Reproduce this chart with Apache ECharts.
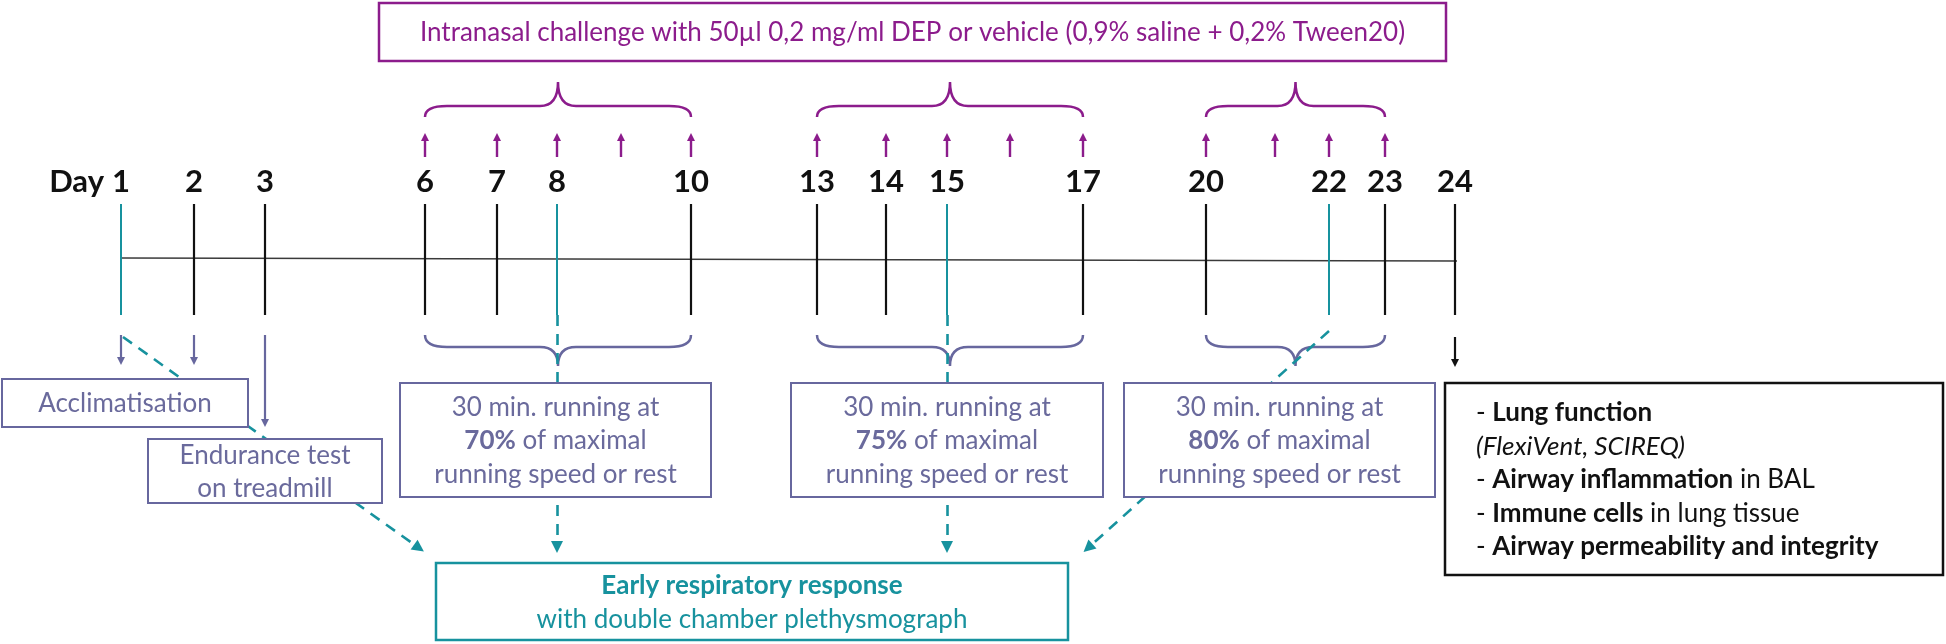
<!DOCTYPE html>
<html>
<head>
<meta charset="utf-8">
<title>Protocol timeline</title>
<script src="https://cdn.jsdelivr.net/npm/echarts@6/dist/echarts.min.js"></script>
<style>
  html, body { margin: 0; padding: 0; background: #fff; }
  #chart { width: 1946px; height: 644px; }
</style>
</head>
<body>
<div id="chart"></div>
<script>
// days on the timeline and where each one sits on the (non linear) schematic axis
const timelineDays = [1, 2, 3, 6, 7, 8, 9, 10, 13, 14, 15, 16, 17, 20, 21, 22, 23, 24]
const timelinePos = [121, 194, 265, 425, 497, 557, 621, 691, 817, 886, 947, 1010, 1083, 1206, 1275, 1329, 1385, 1455]

const labelledDays = [1, 2, 3, 6, 7, 8, 10, 13, 14, 15, 17, 20, 22, 23, 24]
const plethDays = [1, 8, 15, 22]
const challengeDays = [6, 7, 8, 9, 10, 13, 14, 15, 16, 17, 20, 21, 22, 23]
const trainingBlocks = [[6, 10], [13, 17], [20, 23]]
const intensities = ['70%', '75%', '80%']

const challengeText = 'Intranasal challenge with 50µl 0,2 mg/ml DEP or vehicle (0,9% saline + 0,2% Tween20)'
const acclimText = 'Acclimatisation'
const enduranceText = 'Endurance test\non treadmill'
const plethText = ['Early respiratory response', 'with double chamber plethysmograph']
const endpointText = [
  ['- ', 'Lung function', ''],
  ['', '', '(FlexiVent, SCIREQ)'],
  ['- ', 'Airway inflammation', ' in BAL'],
  ['- ', 'Immune cells', ' in lung tissue'],
  ['- ', 'Airway permeability and integrity', '']
]

const FONT = 'Lato'
const PURPLE = '#8c1c8c'
const SLATE = '#67679e'
const SLATE_TEXT = '#6a6a9c'
const TEAL = '#17929e'
const BLACK = '#111111'

const pos = day => timelinePos[timelineDays.indexOf(day)]

const chart = echarts.init(document.getElementById('chart'))

// vertical layout of the timeline
const AXIS_Y = [258, 261]
const TICK_TOP = 204
const TICK_BOTTOM = 315
const LABEL_Y = 182

const rich = (size, color) => ({
  b: { fontFamily: FONT, fontSize: size, fontWeight: 'bold', fill: color, lineHeight: 33.5 },
  i: { fontFamily: FONT, fontSize: size, fontStyle: 'italic', fill: color, lineHeight: 33.5 },
  n: { fontFamily: FONT, fontSize: size, fill: color, lineHeight: 33.5 }
})

const intensityBoxes = [[400, 711], [791, 1103], [1124, 1435]]

const boxes = [
  { x0: 379, y0: 3, x1: 1446, y1: 61, stroke: PURPLE, color: PURPLE, size: 26, lw: 2.5, text: challengeText },
  { x0: 2, y0: 379, x1: 248, y1: 427, stroke: SLATE, color: SLATE_TEXT, size: 26, lw: 2, text: acclimText },
  { x0: 148, y0: 439, x1: 382, y1: 503, stroke: SLATE, color: SLATE_TEXT, size: 26, lw: 2, text: enduranceText },
  ...intensities.map((p, i) => ({
    x0: intensityBoxes[i][0], y0: 383, x1: intensityBoxes[i][1], y1: 497,
    stroke: SLATE, color: SLATE_TEXT, size: 26, lw: 2,
    text: '30 min. running at\n{b|' + p + '} of maximal\nrunning speed or rest'
  })),
  {
    x0: 436, y0: 563, x1: 1068, y1: 640, stroke: TEAL, color: TEAL, size: 26, lw: 2.5,
    text: '{b|' + plethText[0] + '}\n' + plethText[1]
  },
  {
    x0: 1445, y0: 383, x1: 1943, y1: 575, stroke: BLACK, color: BLACK, size: 26, lw: 2.5, align: 'left', pad: 31,
    text: endpointText.map(r => (r[0] ? r[0] : '') + (r[1] ? '{b|' + r[1] + '}' : '') +
      (r[2] ? (r[1] ? r[2] : '{i|' + r[2] + '}') : '')).join('\n')
  }
]

const renderBox = (params, api) => {
  const b = boxes[params.dataIndex]
  const p0 = api.coord([b.x0, b.y0])
  const p1 = api.coord([b.x1, b.y1])
  const left = Math.min(p0[0], p1[0])
  const top = Math.min(p0[1], p1[1])
  const w = Math.abs(p1[0] - p0[0])
  const h = Math.abs(p1[1] - p0[1])
  const align = b.align || 'center'
  return {
    type: 'group',
    children: [
      {
        type: 'rect',
        shape: { x: left, y: top, width: w, height: h },
        style: { fill: '#fff', stroke: b.stroke, lineWidth: b.lw }
      },
      {
        type: 'text',
        x: align === 'left' ? left + b.pad : left + w / 2,
        y: top + h / 2 + 1,
        style: {
          text: b.text,
          fill: b.color,
          fontFamily: FONT,
          fontSize: b.size,
          lineHeight: 33.5,
          align: align,
          textAlign: align,
          verticalAlign: 'middle',
          textVerticalAlign: 'middle',
          rich: rich(b.size, b.color)
        }
      }
    ]
  }
}

const bracePath = (xa, xb, yEnd, yMid, yTip) => {
  const xc = (xa + xb) / 2
  const e = 22
  const c = 18
  return 'M' + xa + ' ' + yEnd + ' Q' + xa + ' ' + yMid + ' ' + (xa + e) + ' ' + yMid +
    ' L' + (xc - c) + ' ' + yMid + ' Q' + xc + ' ' + yMid + ' ' + xc + ' ' + yTip +
    ' Q' + xc + ' ' + yMid + ' ' + (xc + c) + ' ' + yMid +
    ' L' + (xb - e) + ' ' + yMid + ' Q' + xb + ' ' + yMid + ' ' + xb + ' ' + yEnd
}

const renderBraces = (params, api) => {
  const blk = trainingBlocks[params.dataIndex]
  const a = api.coord([pos(blk[0]), 0])
  const b = api.coord([pos(blk[1]), 0])
  const y = v => api.coord([0, v])[1]
  return {
    type: 'group',
    children: [
      {
        type: 'path',
        shape: { pathData: bracePath(a[0], b[0], y(117), y(106), y(82)) },
        style: { fill: 'none', stroke: PURPLE, lineWidth: 2.5 }
      },
      {
        type: 'path',
        shape: { pathData: bracePath(a[0], b[0], y(335), y(347), y(366)) },
        style: { fill: 'none', stroke: SLATE, lineWidth: 2.5 }
      }
    ]
  }
}

const renderLabel = (params, api) => {
  const day = labelledDays[params.dataIndex]
  const p = api.coord([pos(day), LABEL_Y])
  const children = [{
    type: 'text', x: p[0], y: p[1],
    style: {
      text: String(day), fill: BLACK, fontFamily: FONT, fontSize: 31, fontWeight: 'bold',
      align: 'center', textAlign: 'center', verticalAlign: 'middle', textVerticalAlign: 'middle'
    }
  }]
  if (params.dataIndex === 0) {
    children.push({
      type: 'text', x: p[0] - 17, y: p[1],
      style: {
        text: 'Day', fill: BLACK, fontFamily: FONT, fontSize: 31, fontWeight: 'bold',
        align: 'right', textAlign: 'right', verticalAlign: 'middle', textVerticalAlign: 'middle'
      }
    })
  }
  return { type: 'group', children }
}

// dashed connectors to the plethysmograph box (drawn under the boxes)
const dashedLinks = [
  { coords: [[pos(1) + 2, 337], [419, 548]] },
  { coords: [[pos(8), TICK_BOTTOM], [pos(8), 547]] },
  { coords: [[pos(15), TICK_BOTTOM], [pos(15), 547]] },
  { coords: [[pos(22), 331], [1088, 548]] }
]

const option = {
  animation: false,
  backgroundColor: '#fff',
  grid: { left: 0, right: 0, top: 0, bottom: 0 },
  xAxis: { type: 'value', min: 0, max: 1946, show: false },
  yAxis: { type: 'value', min: 0, max: 644, inverse: true, show: false },
  series: [
    {
      name: 'axis',
      type: 'lines',
      coordinateSystem: 'cartesian2d',
      z: 1,
      symbol: 'none',
      lineStyle: { color: '#3a3a3a', width: 1.6, opacity: 1 },
      data: [{ coords: [[pos(1), AXIS_Y[0]], [pos(24) + 2, AXIS_Y[1]]] }]
    },
    {
      name: 'ticks',
      type: 'lines',
      coordinateSystem: 'cartesian2d',
      z: 2,
      symbol: 'none',
      lineStyle: { width: 2.2, opacity: 1 },
      data: labelledDays.map(d => ({
        coords: [[pos(d), TICK_TOP], [pos(d), TICK_BOTTOM]],
        lineStyle: { color: plethDays.includes(d) ? TEAL : BLACK, width: plethDays.includes(d) ? 2 : 2.2 }
      }))
    },
    {
      name: 'labels',
      type: 'custom',
      clip: false,
      z: 3,
      renderItem: renderLabel,
      data: labelledDays.map(d => [pos(d), LABEL_Y])
    },
    {
      name: 'challenge',
      type: 'lines',
      coordinateSystem: 'cartesian2d',
      z: 2,
      symbol: ['none', 'triangle'],
      symbolSize: 8,
      lineStyle: { color: PURPLE, width: 2.4, opacity: 1 },
      data: challengeDays.map(d => ({ coords: [[pos(d), 157], [pos(d), 137]] }))
    },
    {
      name: 'braces',
      type: 'custom',
      clip: false,
      z: 2,
      renderItem: renderBraces,
      data: trainingBlocks.map(b => [pos(b[0]), pos(b[1])])
    },
    {
      name: 'pleth links',
      type: 'lines',
      coordinateSystem: 'cartesian2d',
      z: 2,
      symbol: ['none', 'triangle'],
      symbolSize: 12,
      lineStyle: { color: TEAL, width: 2.6, type: [11, 8], opacity: 1 },
      data: dashedLinks
    },
    {
      name: 'acclim arrows',
      type: 'lines',
      coordinateSystem: 'cartesian2d',
      z: 2,
      symbol: ['none', 'triangle'],
      symbolSize: 8,
      lineStyle: { color: SLATE, width: 2.2, opacity: 1 },
      data: [
        { coords: [[pos(1), 335], [pos(1), 361]] },
        { coords: [[pos(2), 335], [pos(2), 361]] },
        { coords: [[pos(3), 335], [pos(3), 423]] },
        { coords: [[pos(24), 337], [pos(24), 363]], lineStyle: { color: BLACK }, itemStyle: { color: BLACK } }
      ]
    },
    {
      name: 'boxes',
      type: 'custom',
      clip: false,
      z: 5,
      renderItem: renderBox,
      data: boxes.map((b, i) => [i, i])
    }
  ]
}

chart.setOption(option)
window.addEventListener('resize', () => chart.resize())
</script>
</body>
</html>
